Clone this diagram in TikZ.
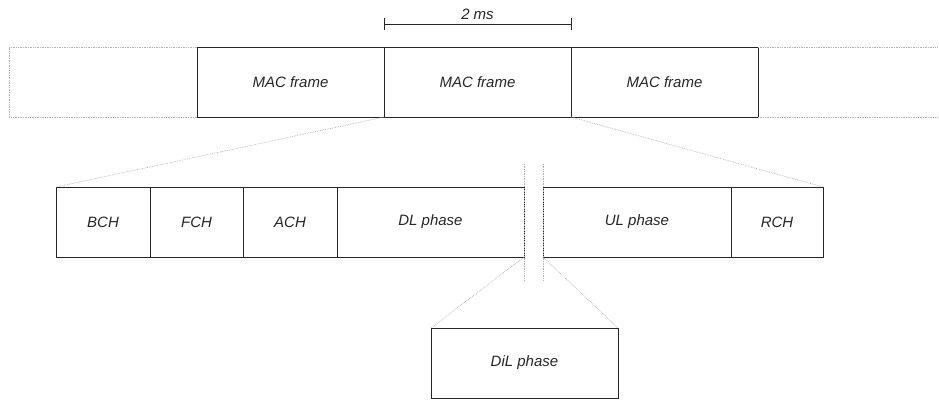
\documentclass[tikz,border=0pt]{standalone}
\usepackage{fontspec}
\setmainfont{Liberation Sans}
\begin{document}
\begin{tikzpicture}[x=1pt,y=-1pt,
  lbl/.style={font=\fontsize{15}{17}\selectfont\itshape,text=black!85},
  frame/.style={lbl,draw=black!85,line width=1pt,inner sep=0pt,outer sep=0pt,anchor=north west},
  zoomline/.style={draw=black!30,line width=0.7pt,densely dotted},
  bracket/.style={draw=black!85,line width=1pt}]
\useasboundingbox (0,0) rectangle (939,399);
% MAC frame row
\node[frame,minimum width=187pt,minimum height=70pt] (mac1) at (197,47) {MAC frame};
\node[frame,minimum width=187pt,minimum height=70pt] (mac2) at (384,47) {MAC frame};
\node[frame,minimum width=187pt,minimum height=70pt] (mac3) at (571,47) {MAC frame};
% frames continuing on both sides
\draw[zoomline] (mac1.north west) -- (9,47) -- (9,117) -- (mac1.south west);
\draw[zoomline] (mac3.north east) -- (938,47);
\draw[zoomline] (mac3.south east) -- (938,117);
% duration bracket
\coordinate (b1) at (384,24);
\coordinate (b2) at (571,24);
\draw[bracket] (b1) -- (b2);
\draw[bracket] ([yshift=-6pt]b1) -- ([yshift=6pt]b1);
\draw[bracket] ([yshift=-6pt]b2) -- ([yshift=6pt]b2);
\node[lbl,inner sep=0pt] (dur) at (477.5,14) {2 ms};
% phases of one MAC frame
\node[frame,minimum width=94pt,minimum height=70pt] (bch) at (56,187) {BCH};
\node[frame,minimum width=93pt,minimum height=70pt] (fch) at (150,187) {FCH};
\node[frame,minimum width=94pt,minimum height=70pt] (ach) at (243,187) {ACH};
\node[frame,minimum width=187pt,minimum height=70pt] (dl) at (337,187) {DL phase};
\node[frame,minimum width=188pt,minimum height=70pt] (ul) at (543,187) {UL phase};
\node[frame,minimum width=92pt,minimum height=70pt] (rch) at (731,187) {RCH};
\draw[zoomline] (mac2.south west) -- (bch.north west);
\draw[zoomline] (mac2.south east) -- (rch.north east);
% gap between DL and UL
\draw[zoomline] (524,164) -- (524,281);
\draw[zoomline] (543,164) -- (543,281);
% direct link phase
\node[frame,minimum width=187pt,minimum height=70pt] (dil) at (431,328) {DiL phase};
\draw[zoomline] (dl.south east) -- (dil.north west);
\draw[zoomline] (ul.south west) -- (dil.north east);
\end{tikzpicture}
\end{document}
